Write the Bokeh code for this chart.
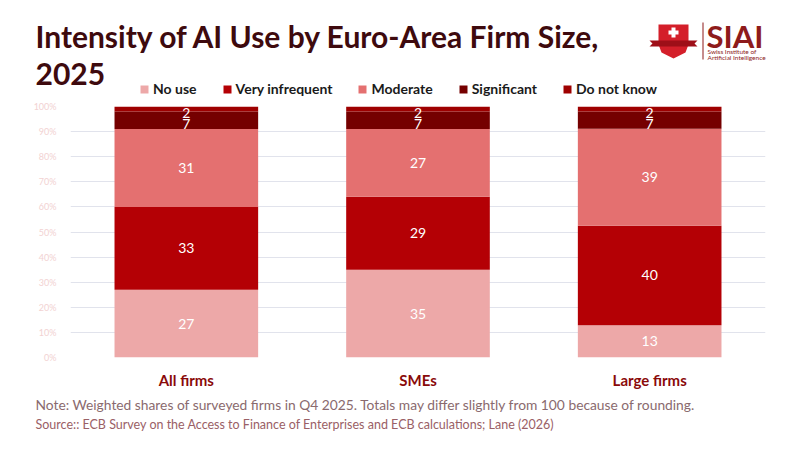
from bokeh.models import (ColumnDataSource, FactorRange, Range1d, FixedTicker, PrintfTickFormatter,
                          Legend, LegendItem, Label, PolyAnnotation, BoxAnnotation)
from bokeh.plotting import figure
from bokeh.layouts import column
from bokeh.core.properties import value
from bokeh.embed import file_html
from bokeh.resources import INLINE

# data
firms = ["All firms", "SMEs", "Large firms"]
no_use = [27, 35, 13]
very_infrequent = [33, 29, 40]
moderate = [31, 27, 39]
significant = [7, 7, 7]
do_not_know = [2, 2, 2]

series = ["No use", "Very infrequent", "Moderate", "Significant", "Do not know"]
colors = ["#EDA8A8", "#B40005", "#E47070", "#750000", "#9E0000"]

FONT = "Lato"
W = 784

vals = [no_use, very_infrequent, moderate, significant, do_not_know]
keys = ["s%d" % i for i in range(len(series))]
totals = [sum(v[j] for v in vals) for j in range(len(firms))]

# bars are drawn as shares of each firm's total (Large firms adds up to 101)
data = dict(firms=firms)
for k, v in zip(keys, vals):
    data[k] = [v[j] * 100.0 / totals[j] for j in range(len(firms))]
source = ColumnDataSource(data=data)

# label positions: middle of each segment, thin segments apart
big = dict(x=[], y=[], t=[])
thin = dict(x=[], y=[], t=[])
for j, f in enumerate(firms):
    base = 0.0
    for k, v in zip(keys, vals):
        h = data[k][j]
        d = big if h >= 10 else thin
        d["x"].append(f)
        d["y"].append(base + h / 2)
        d["t"].append(str(v[j]))
        base += h


def lab(fig, px, py, text, size, color, style="normal", bottom=0, font=FONT):
    # px, py are page pixels (py = vertical middle of the text); bottom is the page y of the figure's lower edge
    fig.add_layout(Label(x=px, y=bottom - py, x_units="screen", y_units="screen", text=text,
                         text_font=font, text_font_size=size, text_color=color,
                         text_font_style=style, text_align="left", text_baseline="middle"))


def bare(h, **kw):
    f = figure(width=W, height=h, output_backend="svg", toolbar_location=None, min_border=0,
               x_axis_location=None, y_axis_location=None, title=None, frame_align=False, **kw)
    f.grid.visible = False
    f.outline_line_color = None
    return f


# ---- header: title, legend, logo (page y 0..97)
HB = 97
head = bare(HB, x_range=FactorRange(*firms), y_range=Range1d(-10, -5))
lab(head, 35, 35, "Intensity of AI Use by Euro-Area Firm Size,", "30px", "#3E0A0E", "bold", bottom=HB)
lab(head, 35, 73, "2025", "30px", "#3E0A0E", "bold", bottom=HB)

# same stack as the chart, kept hidden, only to feed the legend its swatches
keys_r = head.vbar_stack(keys, x="firms", width=0.62, color=colors, line_color=None, source=source)
for r in keys_r:
    r.visible = False
legend = Legend(items=[LegendItem(label=s, renderers=[r]) for s, r in zip(series, keys_r)],
                orientation="horizontal", location=(139, HB - 97),
                glyph_width=10, glyph_height=10, label_standoff=4, spacing=25,
                label_text_font=FONT, label_text_font_size="14px", label_text_font_style="bold",
                label_text_color="#1A1A1A", label_height=14, padding=0, margin=0,
                border_line_color=None, background_fill_alpha=0, inactive_fill_alpha=0)
head.add_layout(legend)


def poly(fig, xs, ys, color, bottom):
    fig.add_layout(PolyAnnotation(xs=xs, ys=[bottom - v for v in ys], xs_units="screen", ys_units="screen",
                                  fill_color=color, fill_alpha=1, line_color=None))


def box(fig, l, r, t, b, color, bottom):
    fig.add_layout(BoxAnnotation(left=l, right=r, top=bottom - t, bottom=bottom - b,
                                 left_units="screen", right_units="screen", top_units="screen",
                                 bottom_units="screen", fill_color=color, fill_alpha=1, line_color=None))


# SIAI logo
poly(head, [658, 688, 688, 685, 673, 661, 658], [24, 24, 44, 52, 58, 52, 44], "#D41F2A", HB)
poly(head, [649, 697, 694, 697, 649, 652], [40, 40, 43, 46, 46, 43], "#9E0F18", HB)
box(head, 671, 675, 27, 37, "white", HB)
box(head, 668, 678, 30, 34, "white", HB)
box(head, 702, 703, 22, 59, "#8E1B1B", HB)
lab(head, 706, 35, "SIAI", "31px", "#8E1B1B", "bold", bottom=HB)
lab(head, 707, 50.5, "Swiss Institute of", "6.5px", "#8E1B1B", bottom=HB)
lab(head, 707, 56.5, "Artificial Intelligence", "6.5px", "#8E1B1B", bottom=HB)

# ---- main chart: frame from x 70..765, y 106..357 on the page
MB = 392
p = figure(x_range=FactorRange(*firms, range_padding=0), y_range=Range1d(0, 100),
           width=W, height=MB - HB, output_backend="svg", toolbar_location=None, frame_align=False,
           min_border_left=70, min_border_right=W - 765, min_border_top=106 - HB,
           min_border_bottom=MB - 357)
p.outline_line_color = None

p.vbar_stack(keys, x="firms", width=0.62, color=colors, line_color=None, source=source)
p.text(x="x", y="y", text="t", source=ColumnDataSource(big), text_color="white", text_font=value(FONT),
       text_font_size="14px", text_align="center", text_baseline="middle")
p.text(x="x", y="y", text="t", source=ColumnDataSource(thin), text_color="white", text_font=value(FONT),
       text_font_size="14px", text_align="center", text_baseline="middle", y_offset=4)

p.yaxis.ticker = FixedTicker(ticks=list(range(0, 101, 10)))
p.yaxis.formatter = PrintfTickFormatter(format="%d%%")
p.yaxis.major_label_text_font_size = "9px"
p.yaxis.major_label_text_color = "#F2D2D2"
p.yaxis.major_label_text_font = FONT
p.yaxis.major_label_standoff = 8
p.yaxis.axis_line_color = None
p.yaxis.major_tick_line_color = None
p.yaxis.minor_tick_line_color = None

p.xaxis.axis_line_color = None
p.xaxis.major_tick_line_color = None
p.xaxis.major_label_text_font = FONT
p.xaxis.major_label_text_font_size = "15px"
p.xaxis.major_label_text_font_style = "bold"
p.xaxis.major_label_text_color = "#8A0A0A"
p.xaxis.major_label_standoff = 7

p.xgrid.grid_line_color = None
p.ygrid.grid_line_color = "#E1E3EC"

# ---- footer: note and source (page y 392..434)
FB = 434
foot = bare(FB - MB, x_range=Range1d(0, 1), y_range=Range1d(0, 1))
lab(foot, 35, 404, "Note: Weighted shares of surveyed firms in Q4 2025. Totals may differ slightly from 100 because of rounding.",
    "13.8px", "#8A6A6E", bottom=FB)
lab(foot, 35, 424, "Source:: ECB Survey on the Access to Finance of Enterprises and ECB calculations; Lane (2026)",
    "12.5px", "#9A6066", bottom=FB)

layout = column(head, p, foot, spacing=0)
open("out.html", "w").write(file_html(layout, INLINE))
